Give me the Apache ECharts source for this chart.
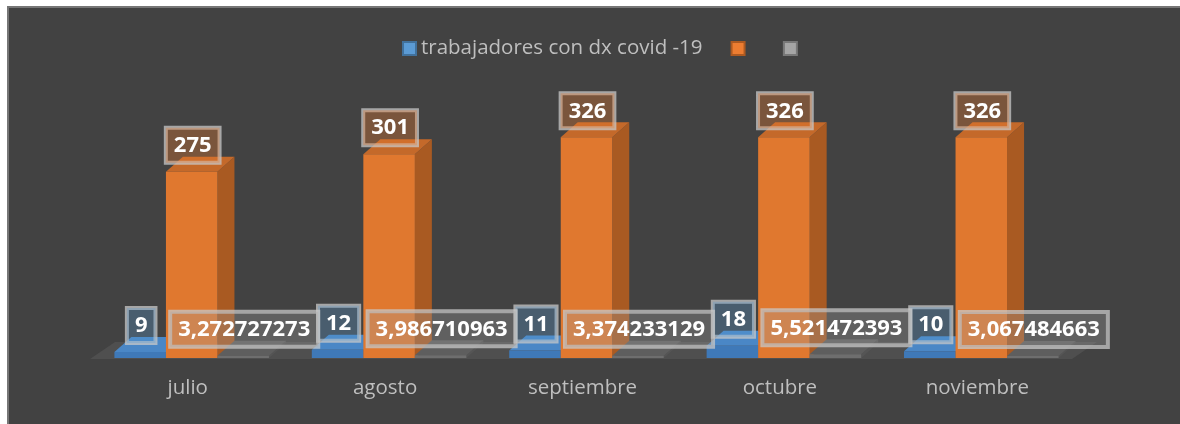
<!DOCTYPE html>
<html>
<head>
<meta charset="utf-8">
<script src="https://cdn.jsdelivr.net/npm/echarts@6/dist/echarts.min.js"></script>
<style>
  html, body { margin: 0; padding: 0; background: #ffffff; overflow: hidden; }
  #frame { position: absolute; left: 7px; top: 6px; right: 0; bottom: 0;
           background: #424242; border-left: 2px solid #767676; border-top: 2px solid #767676; }
  #chart { position: absolute; left: 0; top: 0; width: 1180px; height: 424px; }
</style>
</head>
<body>
<div id="frame"></div>
<div id="chart"></div>
<script>
const meses = ['julio', 'agosto', 'septiembre', 'octubre', 'noviembre'];
const trabajadores = [9, 12, 11, 18, 10];
const serie2 = [275, 301, 326, 326, 326];
const serie3 = [3.272727273, 3.986710963, 3.374233129, 5.521472393, 3.067484663];
const nombres = ['trabajadores con dx covid -19', ' ', '  '];

const DX = 17, DY = -15;

function fmt(v) {
  return String(Number(v.toFixed(9))).replace('.', ',');
}

function makeRender(slot, c) {
  return function (params, api) {
    const idx = api.value(0);
    const v = api.value(1);
    const base = api.coord([idx, 0]);
    const top = api.coord([idx, v]);
    const band = api.size([1, 0])[0];
    const w = band * 0.261;
    const x0 = base[0] + slot * w - w / 2;
    const x1 = x0 + w;
    const yb = base[1];
    const yt = top[1];
    return {
      type: 'group',
      children: [
        { type: 'polygon', shape: { points: [[x1, yb], [x1 + DX, yb + DY], [x1 + DX, yt + DY], [x1, yt]] },
          style: { fill: c.side } },
        { type: 'polygon', shape: { points: [[x0, yt], [x0 + DX, yt + DY], [x1 + DX, yt + DY], [x1, yt]] },
          style: { fill: c.top } },
        { type: 'rect', shape: { x: x0, y: yt, width: w, height: yb - yt },
          style: { fill: c.front } },
        { type: 'text', z2: 100, x: x0 + w / 2 + 1, y: yt - 9,
          style: {
            text: fmt(v), fill: '#ffffff', font: 'bold 22px "Open Sans"',
            align: 'center', verticalAlign: 'bottom', lineHeight: 22,
            backgroundColor: c.box, borderColor: 'rgba(200,200,200,0.75)', borderWidth: 2,
            padding: [7, 8, 6, 8]
          } }
      ]
    };
  };
}

function toData(arr) {
  return arr.map((v, i) => [i, v]);
}

const colores = [
  { front: '#3f79b8', side: '#2f5f93', top: '#4a87c6', box: 'rgba(91,155,213,0.3)', legend: '#5b9bd5', border: '#41719c' },
  { front: '#e0782f', side: '#a95a22', top: '#c4692a', box: 'rgba(237,125,49,0.33)', legend: '#ed7d31', border: '#ae5a21' },
  { front: '#6e6e6e', side: '#555555', top: '#5e5e5e', box: 'rgba(165,165,165,0.3)', legend: '#a5a5a5', border: '#787878' }
];

const valores = [trabajadores, serie2, serie3];

const chart = echarts.init(document.getElementById('chart'));

const series = [{
  name: 'piso',
  type: 'custom',
  z: 1,
  silent: true,
  data: [[0, 0]],
  renderItem: function (params, api) {
    const cs = params.coordSys;
    const y = api.coord([0, 0])[1] + 1;
    const xl = cs.x - 3, xr = cs.x + cs.width - 8;
    return {
      type: 'polygon',
      shape: { points: [[xl, y], [xl + 25, y - 17], [xr + 25, y - 17], [xr, y]] },
      style: { fill: '#4f4f4f' }
    };
  }
}];

valores.forEach((arr, k) => {
  series.push({
    name: nombres[k],
    type: 'custom',
    z: 2,
    itemStyle: { color: colores[k].legend, borderColor: colores[k].border, borderWidth: 1 },
    data: toData(arr),
    renderItem: makeRender(k - 1, colores[k])
  });
});

chart.setOption({
  backgroundColor: 'transparent',
  animation: false,
  legend: {
    data: nombres,
    left: 397,
    top: 33,
    icon: 'rect',
    itemWidth: 13,
    itemHeight: 13,
    itemGap: 28,
    textStyle: { color: '#bfbfbf', fontSize: 20.5, fontFamily: 'Open Sans' }
  },
  grid: { left: 93, right: 100, top: 121, bottom: 66 },
  xAxis: {
    type: 'category',
    data: meses,
    axisLine: { show: false },
    axisTick: { show: false },
    splitLine: { show: false },
    axisLabel: { color: '#bfbfbf', fontSize: 20.5, fontFamily: 'Open Sans', margin: 20, padding: [0, 8, 0, 0] }
  },
  yAxis: { type: 'value', min: 0, max: 350, show: false },
  series: series
});
</script>
</body>
</html>
